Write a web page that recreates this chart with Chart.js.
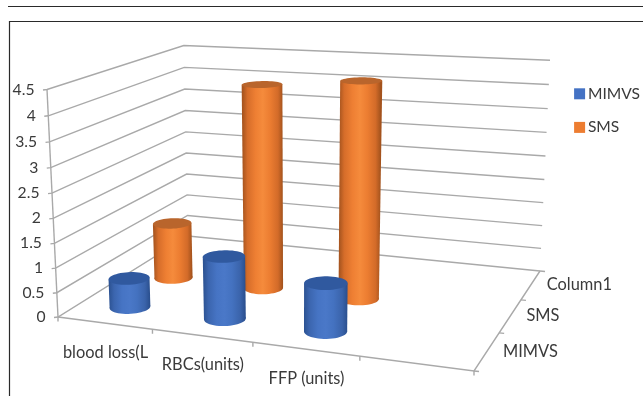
<!DOCTYPE html>
<html><head><meta charset="utf-8">
<script src="https://cdn.jsdelivr.net/npm/chart.js@4/dist/chart.umd.js"></script>
<style>html,body{margin:0;padding:0;background:#fff}canvas{display:block}</style>
</head><body><canvas id="c" width="643" height="396"></canvas>
<script>
const categories = ['blood loss(L', 'RBCs(units)', 'FFP (units)', ''];
const depthLabels = ['MIMVS', 'SMS', 'Column1'];
const mimvsValues = [0.6, 1.26, 0.95, null];
const smsValues = [1.2, 4.25, 4.42, null];

const FONT = 'Lato, Carlito, sans-serif';
const TEXT = '#3a3a3a', GRID = '#a9a9a9';
// floor quad and one wall-top corner define the perspective camera
const Q = {p0:[58,317], p1:[474,371], p2:[540,271], p3:[188,236], top0:[47,89.5], top2:[550,64]};
const cam = (() => {
  const [x0,y0]=Q.p0,[x1,y1]=Q.p1,[x2,y2]=Q.p2,[x3,y3]=Q.p3;
  const dx1=x1-x2,dx2=x3-x2,sx=x0-x1+x2-x3,dy1=y1-y2,dy2=y3-y2,sy=y0-y1+y2-y3;
  const det=dx1*dy2-dx2*dy1;
  const g=(sx*dy2-dx2*sy)/det,h=(dx1*sy-sx*dy1)/det;
  const a=x1-x0+g*x1,b=x3-x0+h*x3,d=y1-y0+g*y1,e=y3-y0+h*y3;
  const Z=1+g+h,X=x2*Z;
  const cz=(X-x0+Q.top0[0]-Q.top2[0]*Z)/(Q.top2[0]-Q.top0[0]);
  const cx=Q.top0[0]*(1+cz)-x0,cy=Q.top0[1]*(1+cz)-y0;
  return {a,b,d,e,g,h,x0,y0,cx,cy,cz};
})();
function project(u,w,v){
  const c=cam,z=c.g*u+c.h*w+1+c.cz*v;
  return [(c.a*u+c.b*w+c.x0+c.cx*v)/z,(c.d*u+c.e*w+c.y0+c.cy*v)/z];
}
const normV=(s,val)=>(s.bottom-s.getPixelForValue(val))/(s.bottom-s.top);
const normU=(s,i)=>(s.getPixelForValue(i)-s.left)/(s.right-s.left);

const RU=0.049, RW=0.068, U_NUDGE=0.004;
const SHADES={
  '#4472C4':{top:'#30599f',stops:['#2c5292','#3b65ae','#4674c4','#4a78c8','#4472c0','#3a63aa','#2a4f8e']},
  '#ED7D31':{top:'#b9652c',stops:['#a8551f','#d66d2a','#ee7f33','#f58b3c','#ec7d31','#d36b29','#a4531d']}
};
class Cylinder3D extends Chart.BarController{
  draw(){
    const meta=this._cachedMeta,ctx=this.chart.ctx,ys=meta.vScale,xs=meta.iScale;
    const w=(meta.index+.5)/depthLabels.length,color=this.getDataset().backgroundColor,sh=SHADES[color];
    meta._parsed.forEach((p,i)=>{
      if(p.y==null||isNaN(p.y))return;
      const u=normU(xs,i)+U_NUDGE,v=normV(ys,p.y),v0=normV(ys,0);
      const ring=vv=>{const r=[];for(let k=0;k<48;k++){const t=k/48*Math.PI*2;r.push(project(u+RU*Math.cos(t),w+RW*Math.sin(t),vv));}return r;};
      const top=ring(v),bot=ring(v0);
      const ext=r=>r.reduce((m,q,k)=>[q[0]<r[m[0]][0]?k:m[0],q[0]>r[m[1]][0]?k:m[1]],[0,0]);
      const [tl,tr]=ext(top),[bl,br]=ext(bot);
      const gx0=(top[tl][0]+bot[bl][0])/2,gx1=(top[tr][0]+bot[br][0])/2;
      const gr=ctx.createLinearGradient(gx0,0,gx1,0);
      sh.stops.forEach((s,k)=>gr.addColorStop([0,.12,.32,.5,.68,.88,1][k],s));
      const poly=r=>{ctx.beginPath();r.forEach((q,k)=>k?ctx.lineTo(q[0],q[1]):ctx.moveTo(q[0],q[1]));ctx.closePath();ctx.fill();};
      ctx.save();
      ctx.fillStyle=gr;
      poly(bot);
      poly([top[tl],top[tr],bot[br],bot[bl]]);
      ctx.fillStyle=sh.top;
      poly(top);
      ctx.restore();
    });
  }
}
Cylinder3D.id='cylinder3d';
Cylinder3D.defaults=Chart.BarController.defaults;
Chart.register(Cylinder3D);

const wallPlugin={
  id:'wall',
  beforeDatasetsDraw(chart){
    const ctx=chart.ctx,ys=chart.scales.y,xs=chart.scales.x;
    const seg=(pts,col,lw)=>{ctx.strokeStyle=col||GRID;ctx.lineWidth=lw||1.4;ctx.beginPath();pts.forEach((q,k)=>k?ctx.lineTo(q[0],q[1]):ctx.moveTo(q[0],q[1]));ctx.stroke();};
    ctx.save();
    // page rules
    seg([[8,6.5],[643,6.5]],'#2a2a2a',1.2);
    seg([[9.5,396],[9.5,21.5],[643,21.5]],'#2a2a2a',1.2);
    // walls
    const v0=normV(ys,0);
    ys.ticks.forEach(t=>{
      const v=normV(ys,t.value),a=project(0,0,v),b=project(0,1,v),c=project(1,1,v);
      seg([[a[0]-4,a[1]+.5],a,b,c]);
      ctx.fillStyle=TEXT;ctx.font='15.7px '+FONT;ctx.textAlign='right';ctx.textBaseline='middle';
      ctx.fillText(t.label,a[0]-12.5,a[1]);
    });
    seg([project(0,0,v0),project(0,0,1)]);
    // floor edges
    seg([project(0,0,v0),project(1,0,v0),project(1,1,v0)]);
    const n=categories.length;
    ctx.font='16.4px '+FONT;ctx.textBaseline='middle';ctx.textAlign='center';ctx.fillStyle=TEXT;
    for(let i=0;i<=n;i++){const q=project(i/n,0,v0);seg([q,[q[0],q[1]+4.5]]);}
    categories.forEach((lab,i)=>{
      const q=project(normU(xs,i),0,v0);
      if(lab)ctx.fillText(lab,q[0]+1,q[1]+29.5);
    });
    ctx.textAlign='left';
    const m=depthLabels.length;
    for(let k=0;k<=m;k++){const q=project(1,k/m,v0);seg([q,[q[0]+5,q[1]+.5]]);}
    depthLabels.forEach((lab,k)=>{
      const q=project(1,(k+.5)/m,v0);
      ctx.fillText(lab,q[0]+16,q[1]);
    });
    ctx.restore();
  },
  afterDraw(chart){
    // legend swatches sit closer to their text than the library's fixed gap
    const ctx=chart.ctx,lg=chart.legend;
    ctx.save();
    lg.legendHitBoxes.forEach((b,i)=>{
      ctx.fillStyle=chart.data.datasets[i].backgroundColor;
      const s=lg.options.labels.boxWidth;
      ctx.fillRect(b.left+5,b.top+(b.height-s)/2,s,s);
    });
    ctx.restore();
  }
};

new Chart(document.getElementById('c'),{
  type:'cylinder3d',
  plugins:[wallPlugin],
  data:{labels:categories,datasets:[
    {label:'MIMVS',data:mimvsValues,backgroundColor:'#4472C4',clip:false},
    {label:'SMS',data:smsValues,backgroundColor:'#ED7D31',clip:false}
  ]},
  options:{
    responsive:false,animation:false,
    layout:{padding:{top:68,right:-7}},
    scales:{
      x:{type:'category',display:false},
      y:{type:'linear',display:false,min:0,max:4.5,ticks:{stepSize:.5,callback:v=>String(v)}}
    },
    plugins:{
      tooltip:{enabled:false},
      legend:{position:'right',align:'start',labels:{boxWidth:11,boxHeight:11,padding:18,color:TEXT,font:{family:FONT,size:15.6},
        generateLabels(chart){
          return Chart.defaults.plugins.legend.labels.generateLabels(chart).map(l=>Object.assign(l,{fillStyle:'rgba(0,0,0,0)',strokeStyle:'rgba(0,0,0,0)',lineWidth:0}));
        }}}
    }
  }
});
</script></body></html>
